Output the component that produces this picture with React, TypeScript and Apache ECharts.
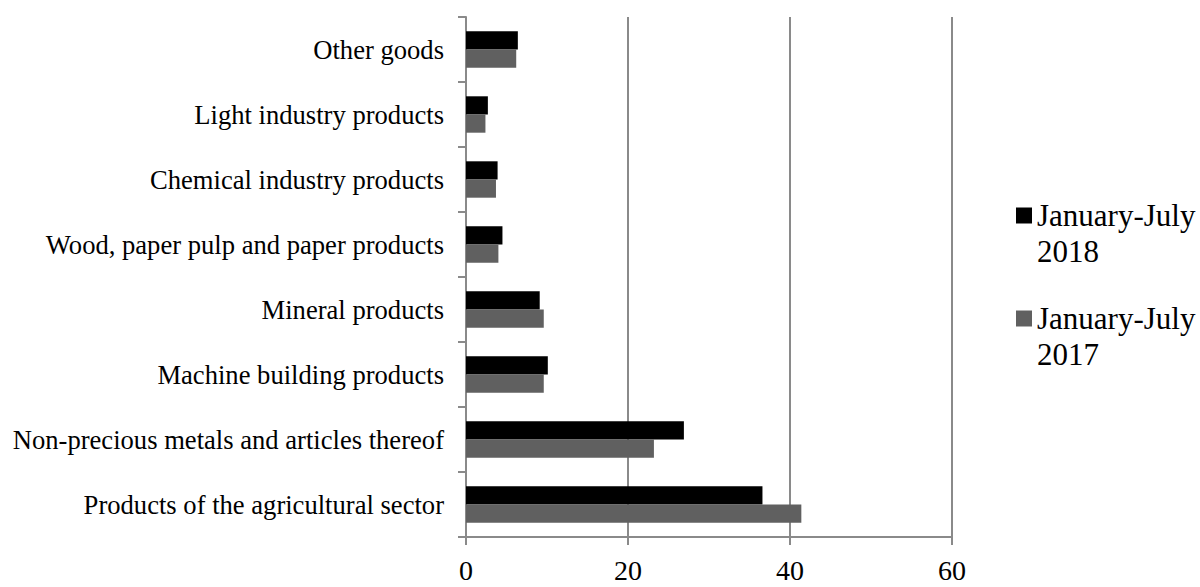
import React, { useEffect, useRef } from "react";
import * as echarts from "echarts";

const categories = [
  "Products of the agricultural sector",
  "Non-precious metals and articles thereof",
  "Machine building products",
  "Mineral products",
  "Wood, paper pulp and paper products",
  "Chemical industry products",
  "Light industry products",
  "Other goods",
];
const series2018Name = "January-July\n2018";
const series2017Name = "January-July\n2017";
const values2018 = [36.6, 26.9, 10.1, 9.1, 4.5, 3.9, 2.7, 6.4];
const values2017 = [41.4, 23.2, 9.6, 9.6, 4.0, 3.7, 2.4, 6.2];
const xTicks = { min: 0, max: 60, interval: 20 };

export default function App() {
  const ref = useRef<HTMLDivElement>(null);
  useEffect(() => {
    document.body.style.margin = "0";
    const chart = echarts.init(ref.current!, null, { renderer: "svg" });
    const font = "'Liberation Serif', 'Times New Roman', serif";
    const L = 36;
    chart.setOption({
      animation: false,
      textStyle: { fontFamily: font, color: "#000" },
      grid: { left: 466, right: 248, top: 17, bottom: 50 },
      legend: {
        orient: "vertical",
        left: 1011,
        top: 210.5 - 1.5 * L,
        itemWidth: 16,
        itemHeight: 16,
        itemGap: -5,
        icon: "rect",
        data: [series2018Name, series2017Name],
        formatter: (name: string) => "\n" + name,
        textStyle: { fontFamily: font, fontSize: 31, color: "#000", lineHeight: L },
      },
      xAxis: {
        type: "value",
        min: xTicks.min,
        max: xTicks.max,
        interval: xTicks.interval,
        axisLine: { show: true, lineStyle: { color: "#8a8a8a", width: 2 } },
        axisTick: { show: true, length: 8, lineStyle: { color: "#8a8a8a", width: 2 } },
        splitLine: { show: true, lineStyle: { color: "#8a8a8a", width: 2 } },
        axisLabel: { fontFamily: font, fontSize: 28, color: "#000", margin: 19 },
      },
      yAxis: {
        type: "category",
        data: categories,
        axisLine: { show: true, lineStyle: { color: "#8a8a8a", width: 2 } },
        axisTick: { show: true, length: 8, lineStyle: { color: "#8a8a8a", width: 2 } },
        axisLabel: { fontFamily: font, fontSize: 26.6, color: "#000", margin: 22 },
      },
      series: [
        {
          name: series2018Name,
          type: "bar",
          data: values2018,
          itemStyle: { color: "#000000" },
          barGap: "0%",
          barCategoryGap: "44%",
        },
        {
          name: series2017Name,
          type: "bar",
          data: values2017,
          itemStyle: { color: "#606060" },
          barGap: "0%",
          barCategoryGap: "44%",
        },
      ],
    });
    return () => chart.dispose();
  }, []);
  return <div ref={ref} style={{ width: 1200, height: 587 }} />;
}
